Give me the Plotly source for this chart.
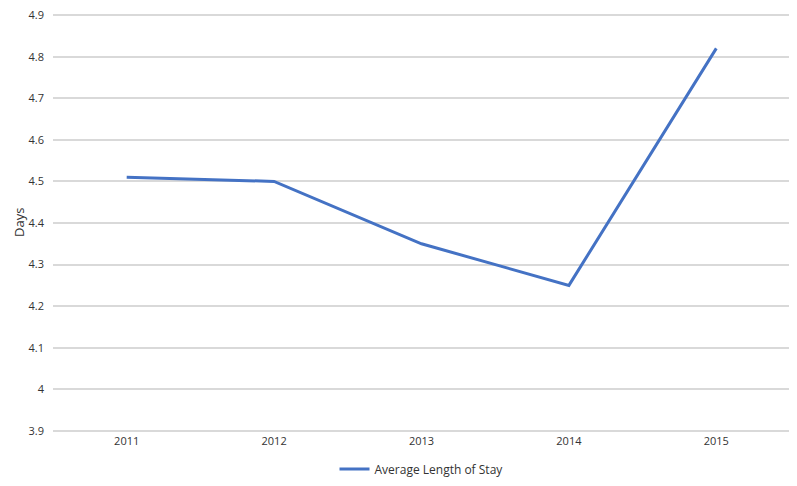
import plotly.graph_objects as go

years = ["2011", "2012", "2013", "2014", "2015"]
avg_stay = [4.51, 4.50, 4.35, 4.25, 4.82]
y_ticks = [3.9, 4.0, 4.1, 4.2, 4.3, 4.4, 4.5, 4.6, 4.7, 4.8, 4.9]
y_labels = ["3.9", "4", "4.1", "4.2", "4.3", "4.4", "4.5", "4.6", "4.7", "4.8", "4.9"]

fig = go.Figure()
fig.add_trace(
    go.Scatter(
        x=years,
        y=avg_stay,
        mode="lines",
        name="Average Length of Stay",
        line=dict(color="#4472C4", width=3),
    )
)
fig.update_layout(
    width=797,
    height=486,
    margin=dict(l=45, r=15, t=5, b=61, autoexpand=False),
    paper_bgcolor="white",
    plot_bgcolor="white",
    font=dict(family="Open Sans", size=11, color="#333333"),
    showlegend=True,
    legend=dict(orientation="h", x=0.5, xanchor="center", y=-0.12, yanchor="bottom",
                font=dict(size=12, color="#333333")),
    xaxis=dict(showgrid=False, showline=False, ticks="", type="category",
               range=[-0.5, 4.5], tickfont=dict(size=11), automargin=False),
    yaxis=dict(range=[3.895, 4.905], tickvals=y_ticks, ticktext=y_labels,
               showgrid=True, gridcolor="#d9d9d9", gridwidth=1.5,
               zeroline=False, showline=False, automargin=False,
               ticklabelstandoff=8, ticklabeloverflow="allow", tickfont=dict(size=11)),
    annotations=[
        dict(text="Days", xref="paper", yref="paper", x=0, y=0.5, xshift=-45,
             xanchor="left", yanchor="middle", textangle=-90, showarrow=False,
             font=dict(size=13, color="#333333"))
    ],
)
fig.write_html("out.html")
